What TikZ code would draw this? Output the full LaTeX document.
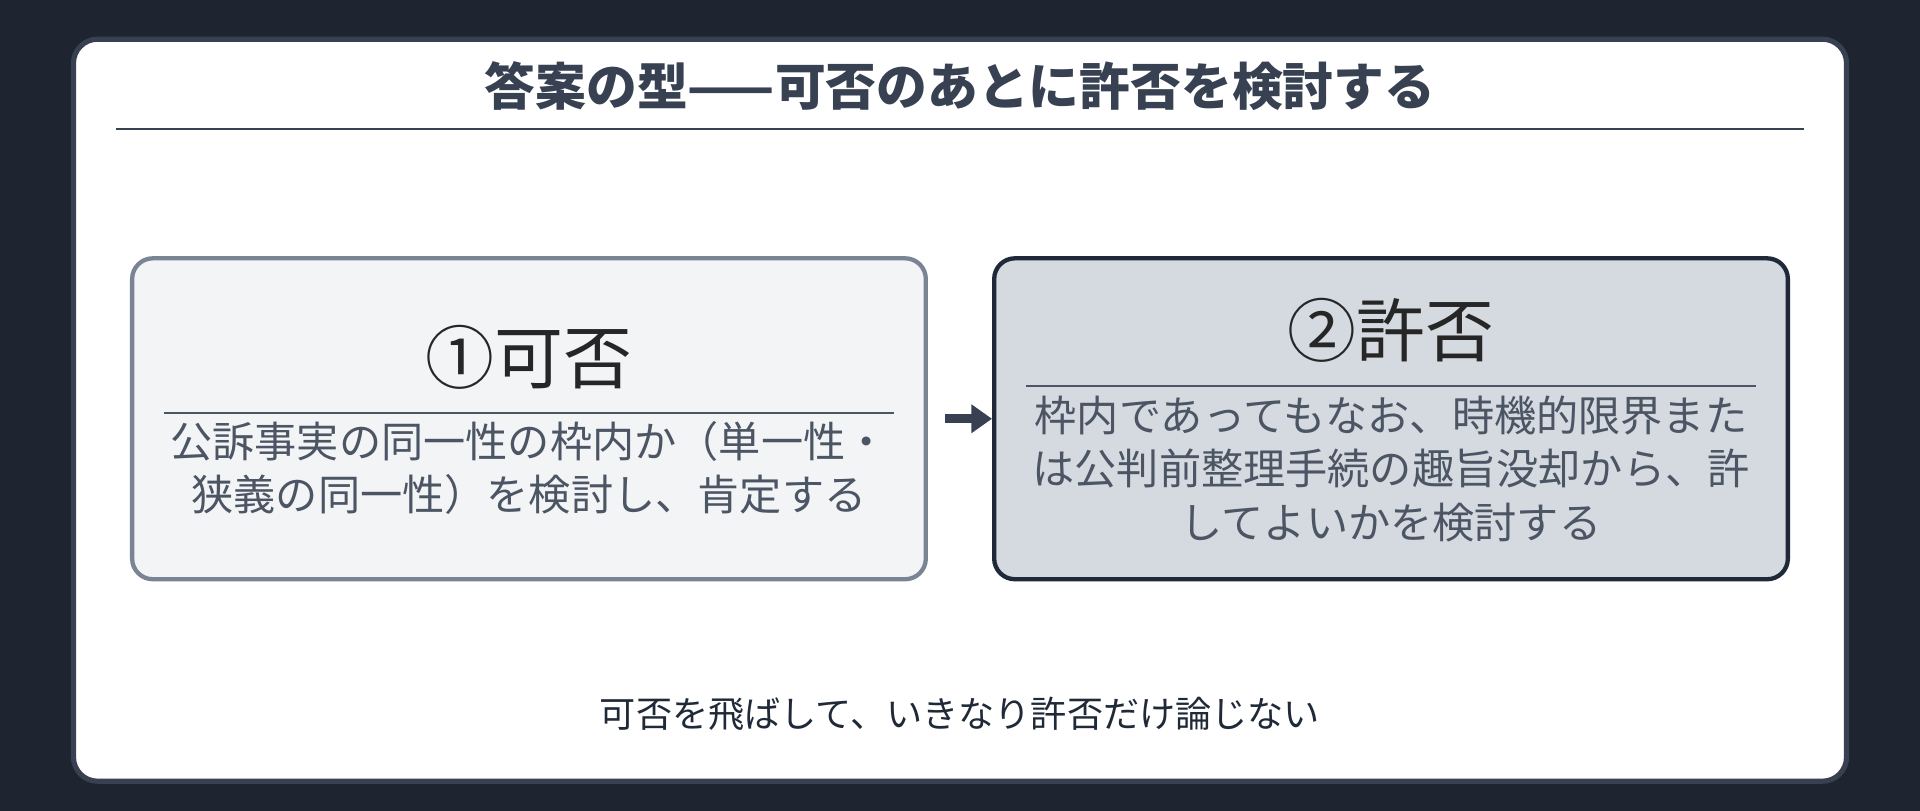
\documentclass[tikz,border=0pt]{standalone}
\usepackage{fontspec}
\setmainfont{Noto Sans CJK JP}
\usetikzlibrary{positioning,arrows.meta}
\definecolor{bgdark}{HTML}{1E2530}
\definecolor{inkgray}{HTML}{374151}
\definecolor{softgray}{HTML}{4B5563}
\definecolor{edgeA}{HTML}{7B8494}
\definecolor{fillA}{HTML}{F3F4F6}
\definecolor{fillB}{HTML}{D5D9E0}
\definecolor{edgeB}{HTML}{1F2937}
\tikzset{
	stage/.style={draw, line width=2.5pt, rounded corners=12pt, minimum width=16.2cm, minimum height=6.55cm},
	head/.style={font=\fontsize{40}{44}\selectfont, text=black!85},
	body/.style={font=\fontsize{24.5}{31}\selectfont, text=softgray, align=center}
}
\begin{document}
\begin{tikzpicture}[x=0.025cm, y=-0.025cm]
	\fill[bgdark] (0,0) rectangle (1568,662);
	\useasboundingbox (0,0) rectangle (1568,662);
	\draw[fill=white, draw=inkgray, line width=3pt, rounded corners=14pt] (60,32) rectangle (1508,638);
	\node[font=\bfseries\fontsize{29.5}{33}\selectfont, text=inkgray] (title) at (784,70) {答案の型——可否のあとに許否を検討する};
	\draw[inkgray, line width=1.2pt] (95,105) -- (1473,105);
	% stages
	\node[stage, draw=edgeA, fill=fillA] (s1) at (432,342) {};
	\node[stage, draw=edgeB, fill=fillB] (s2) at (1136,342) {};
	\node[head] (h1) at (432,292) {①可否};
	\draw[softgray, line width=1pt] (134,337) -- (730,337);
	\node[body] (b1) at (432,382) {公訴事実の同一性の枠内か（単一性・\\狭義の同一性）を検討し、肯定する};
	\node[head] (h2) at (1136,270) {②許否};
	\draw[softgray, line width=1pt] (838,315) -- (1434,315);
	\node[body] (b2) at (1136,383) {枠内であってもなお、時機的限界また\\は公判前整理手続の趣旨没却から、許\\してよいかを検討する};
	\draw[-{Triangle[length=12pt,width=16pt]}, line width=5pt, inkgray] ([xshift=10pt]s1.east) -- (s2.west);
	\node[font=\fontsize{21}{25}\selectfont, text=edgeB] (note) at (784,583) {可否を飛ばして、いきなり許否だけ論じない};
\end{tikzpicture}
\end{document}
